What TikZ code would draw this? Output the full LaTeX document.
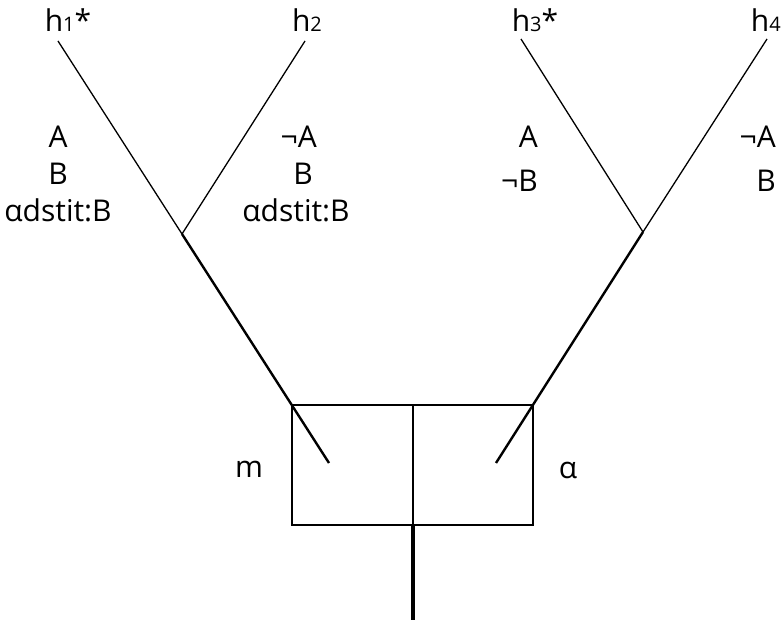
\documentclass[tikz,border=0pt]{standalone}
\usepackage{fontspec}
\setmainfont{Open Sans}
\newcommand{\smalldig}[1]{{\fontsize{20}{20}\selectfont #1}}
\begin{document}
\begin{tikzpicture}[x=1pt,y=-1pt,
  lbl/.style={inner sep=0pt,font=\fontsize{30}{34}\selectfont},
  thin/.style={line width=1.3pt},
  thick2/.style={line width=2.4pt},
  boxl/.style={line width=2pt}]
\useasboundingbox (0,0) rectangle (782,623);
% coordinates
\coordinate (t1) at (58,41);
\coordinate (t2) at (305,41);
\coordinate (t3) at (521,39);
\coordinate (t4) at (767,39);
\coordinate (bl) at (182,234);
\coordinate (br) at (643,232);
\coordinate (el) at (329,463);
\coordinate (er) at (496,463);
\coordinate (top) at (413,405);
\coordinate (bot) at (413,525);
\coordinate (stemend) at (413,620);
% box
\draw[boxl] (292,405) rectangle (533,525);
\draw[boxl] (top) -- (bot);
\draw[line width=4pt] (bot) -- (stemend);
% branches
\draw[thin] (t1) -- (bl);
\draw[thin] (t2) -- (bl);
\draw[thick2] (bl) -- (el);
\draw[thin] (t3) -- (br);
\draw[thin] (t4) -- (br);
\draw[thick2] (br) -- (er);
% labels top
\node[lbl,anchor=base] (h1) at (68,32) {h\smalldig{1}*};
\node[lbl,anchor=base] (h2) at (307,32) {h\smalldig{2}};
\node[lbl,anchor=base] (h3) at (535,32) {h\smalldig{3}*};
\node[lbl,anchor=base east] (h4) at (781,32) {h\smalldig{4}};
% left block
\node[lbl,anchor=base] (a1) at (58,148) {A};
\node[lbl,anchor=base] (b1) at (58,185) {B};
\node[lbl,anchor=base] (c1) at (58,222) {αdstit:B};
% middle block
\node[lbl,anchor=base east] (a2) at (317,148) {¬A};
\node[lbl,anchor=base] (b2) at (303,185) {B};
\node[lbl,anchor=base] (c2) at (296,222) {αdstit:B};
% right blocks
\node[lbl,anchor=base east] (a3) at (538,148) {A};
\node[lbl,anchor=base east] (b3) at (538,192) {¬B};
\node[lbl,anchor=base east] (a4) at (776,148) {¬A};
\node[lbl,anchor=base east] (b4) at (776,192) {B};
% m and alpha
\node[lbl,anchor=base] (m) at (249,477) {m};
\node[lbl,anchor=base] (al) at (568,478) {α};
\end{tikzpicture}
\end{document}
